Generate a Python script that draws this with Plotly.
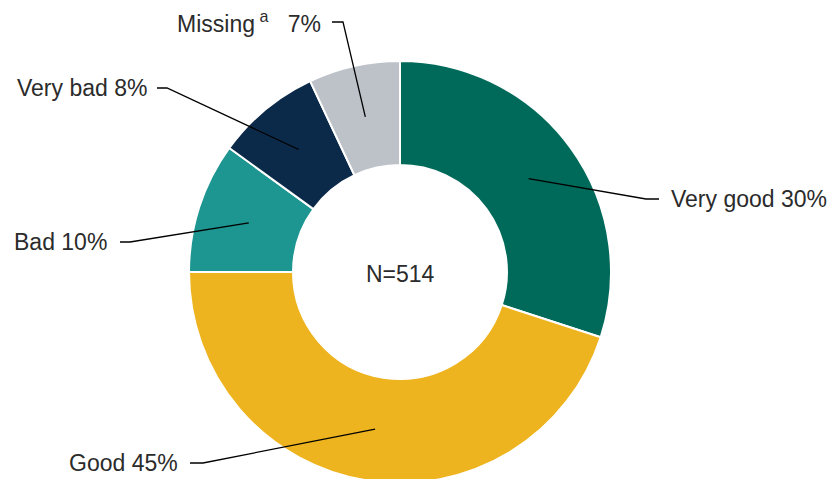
import math

import plotly.graph_objects as go

# slice data, clockwise from 12 o'clock
labels = ['Very good', 'Good', 'Bad', 'Very bad', 'Missing']
values = [30, 45, 10, 8, 7]
label_text = ['Very good 30%', 'Good 45%', 'Bad 10%', 'Very bad 8%',
              'Missing\u2009<sup>a</sup>\u00a0\u00a0 7%']
colours = ['#006a5a', '#eeb41f', '#1d9590', '#0b2a4a', '#bcc2c8']

W, H = 836, 479
OFF = 8  # page body margin, figure is shifted by this much on screen
CX, CY, R = 400, 272, 211  # screen pixels
HOLE = 0.507

# label placement (screen pixels): text x, text y, anchor side, stub start x, stub end x
label_pos = [
    (669, 199, 'left', 659, 646),
    (180, 463, 'right', 190, 203),
    (109, 242, 'right', 120, 130),
    (149, 88, 'right', 157, 167),
    (323, 22, 'right', 332, 343),
]


def px(x, y):
    return (x - OFF) / W, 1 - (y - OFF) / H


dx0, dy1 = px(CX - R, CY - R)
dx1, dy0 = px(CX + R, CY + R)

fig = go.Figure(go.Pie(
    labels=labels,
    values=values,
    sort=False,
    direction='clockwise',
    rotation=0,
    hole=HOLE,
    textinfo='none',
    marker={'colors': colours, 'line': {'color': 'white', 'width': 2}},
    domain={'x': [dx0, dx1], 'y': [max(dy0, 0), dy1]},
))

annotations = []
shapes = []
total = sum(values)
cum = 0
r_mid = R * (1 + HOLE) / 2
for v, txt, (tx, ty, side, sx0, sx1) in zip(values, label_text, label_pos):
    # anchor point in the middle of the slice
    ang = math.radians((cum + v / 2) / total * 360)
    cum += v
    ax_, ay_ = CX + r_mid * math.sin(ang), CY - r_mid * math.cos(ang)
    x0, y0 = px(sx0, ty)
    x1, y1 = px(sx1, ty)
    x2, y2 = px(ax_, ay_)
    shapes.append(dict(type='path', xref='paper', yref='paper',
                       path=f'M {x0} {y0} L {x1} {y1} L {x2} {y2}',
                       line={'color': 'black', 'width': 1.3}))
    xa, ya = px(tx, ty)
    annotations.append(dict(text=txt, x=xa, y=ya, xref='paper', yref='paper',
                            xanchor=side, yanchor='middle', showarrow=False,
                            font={'size': 23, 'color': '#2b2b2b'}))

cx_p, cy_p = px(CX, CY + 2)
annotations.append(dict(text='N=514', x=cx_p, y=cy_p, xref='paper', yref='paper',
                        showarrow=False, font={'size': 23, 'color': '#2b2b2b'}))

fig.update_layout(
    width=W, height=H,
    margin={'l': 0, 'r': 0, 't': 0, 'b': 0},
    paper_bgcolor='white',
    showlegend=False,
    font={'family': 'Liberation Sans, Arial, sans-serif'},
    annotations=annotations,
    shapes=shapes,
)

fig.write_html('out.html')
